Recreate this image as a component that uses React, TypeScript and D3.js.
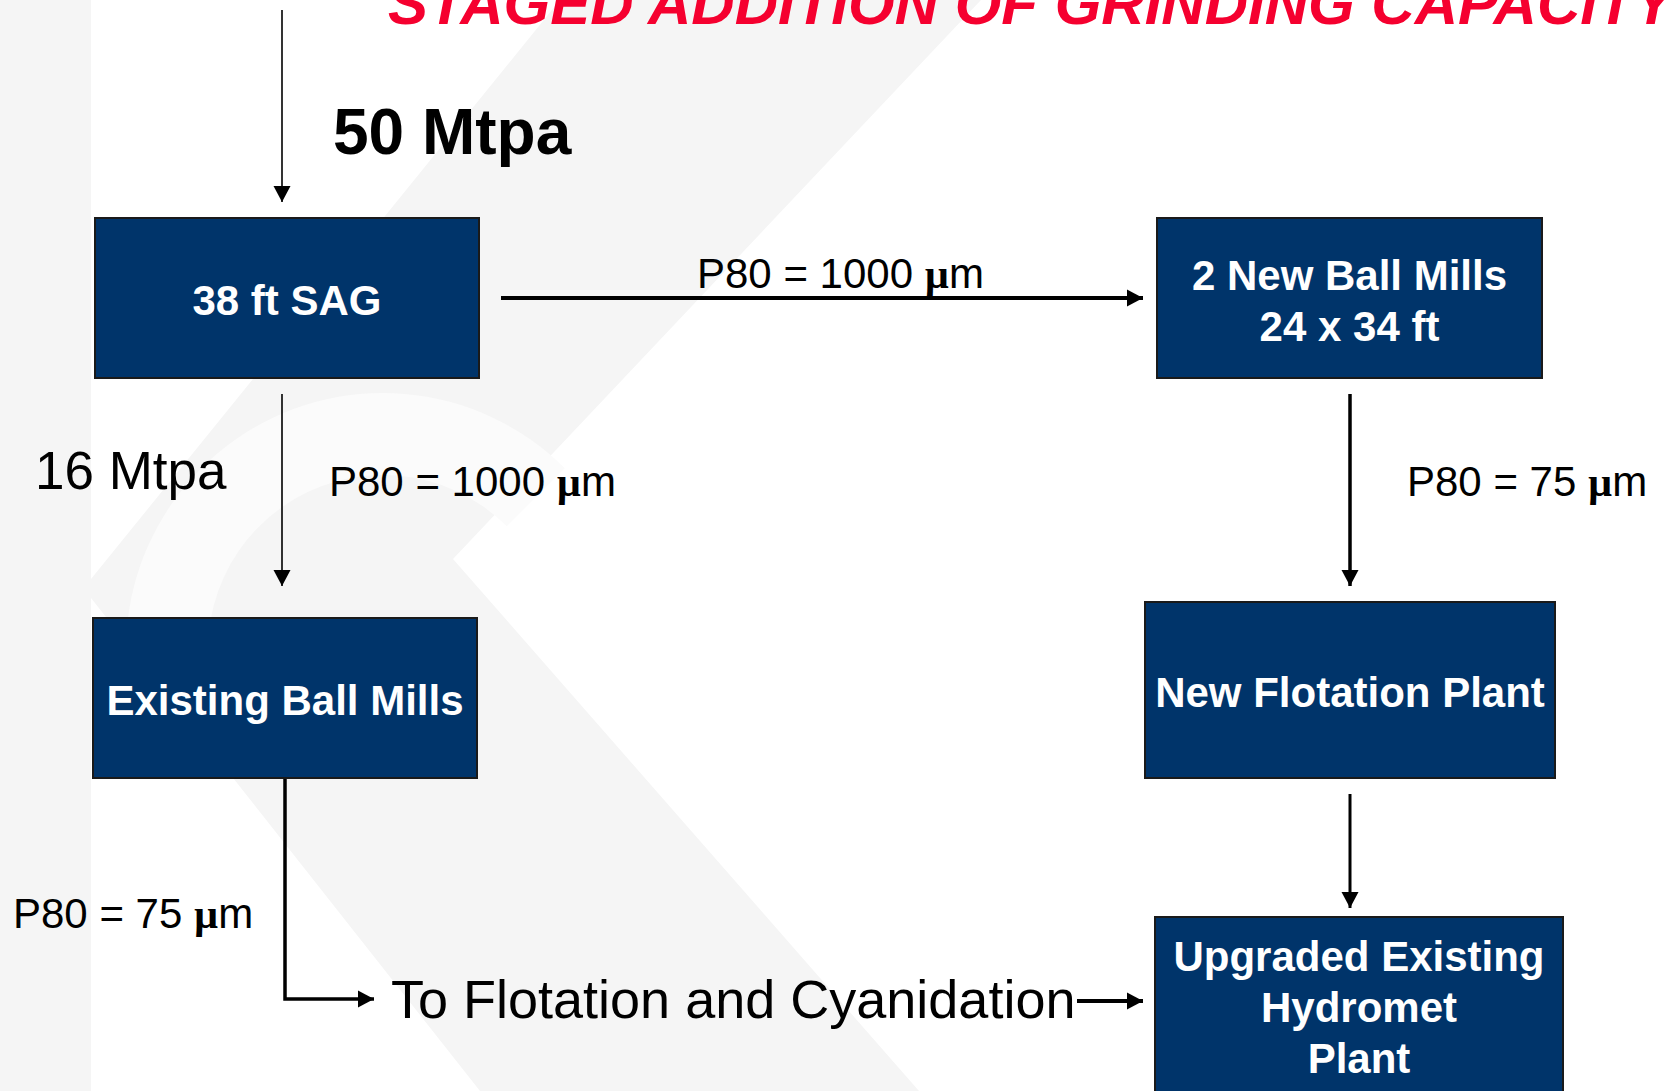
import React from 'react';
import * as d3 from 'd3';

const W = 1667;
const H = 1091;

// process units (boxes) and their text lines
const nodeIds = ['sag', 'newBall', 'existing', 'flotation', 'upgraded'];
const nodeLines = [
  ['38 ft SAG'],
  ['2 New Ball Mills', '24 x 34 ft'],
  ['Existing Ball Mills'],
  ['New Flotation Plant'],
  ['Upgraded Existing', 'Hydromet', 'Plant'],
];

// flows between units
const flowIds = ['feed', 'toNewBall', 'toExisting', 'toFlotation', 'toUpgraded', 'existingOut', 'cyanOut'];
const flowWeights = [1.6, 4, 1.6, 3.5, 3, 3.5, 4];

// throughput labels
const tonnageIds = ['feed', 'toExisting'];
const tonnageValues = [50, 16];

// grind size labels (P80, microns)
const p80Ids = ['toNewBall', 'toExisting', 'toFlotation', 'existingOut'];
const p80Values = [1000, 1000, 75, 75];

const title = 'STAGED ADDITION OF GRINDING CAPACITY';
const destination = 'To Flotation and Cyanidation';

// ---- layout ----
const boxes: Record<string, { x: number; y: number; w: number; h: number }> = {
  sag: { x: 95, y: 218, w: 384, h: 160 },
  newBall: { x: 1157, y: 218, w: 385, h: 160 },
  existing: { x: 93, y: 618, w: 384, h: 160 },
  flotation: { x: 1145, y: 602, w: 410, h: 176 },
  upgraded: { x: 1155, y: 917, w: 408, h: 176 },
};

const flowPaths: Record<string, [number, number][]> = {
  feed: [[282, 10], [282, 202]],
  toNewBall: [[501, 298], [1143, 298]],
  toExisting: [[282, 394], [282, 586]],
  toFlotation: [[1350, 394], [1350, 586]],
  toUpgraded: [[1350, 794], [1350, 908]],
  existingOut: [[285, 778], [285, 999], [374, 999]],
  cyanOut: [[1077, 1001], [1143, 1001]],
};

const tonnagePos: Record<string, { x: number; y: number; size: number; weight: string }> = {
  feed: { x: 333, y: 154, size: 64, weight: 'bold' },
  toExisting: { x: 35, y: 489, size: 53, weight: 'normal' },
};

const p80Pos: Record<string, { x: number; y: number }> = {
  toNewBall: { x: 697, y: 288 },
  toExisting: { x: 329, y: 496 },
  toFlotation: { x: 1407, y: 496 },
  existingOut: { x: 13, y: 928 },
};

const FONT = '"Liberation Sans", Arial, Helvetica, sans-serif';
const NAVY = '#00346a';
const WM = '#f5f5f5';

const line = d3.line<[number, number]>();

const App = () => {
  const ring = d3.arc()({
    innerRadius: 175,
    outerRadius: 257,
    startAngle: -Math.PI / 2 - 0.45,
    endAngle: Math.PI / 4,
  } as any) as string;

  return (
    <svg
      width={W}
      height={H}
      style={{ position: 'absolute', left: 0, top: 0, display: 'block', background: '#fff' }}
      fontFamily={FONT}
    >
      <defs>
        <marker
          id="head"
          markerUnits="userSpaceOnUse"
          markerWidth={18}
          markerHeight={18}
          refX={16}
          refY={0}
          orient="auto"
          overflow="visible"
        >
          <path d="M0,-8.5L16,0L0,8.5Z" fill="#000" />
        </marker>
      </defs>

      {/* faint logo watermark */}
      <g fill={WM}>
        <rect x={0} y={0} width={91} height={H} />
        <polygon points="560,0 981,0 453,559 919,1091 480,1091 91,598 91,579" />
        <path d={ring} transform="translate(383,650)" fill="#fbfbfb" />
      </g>

      {/* title */}
      <text x={388} y={24} fontSize={60} fontWeight="bold" fontStyle="italic" fill="#f5002f">
        {title}
      </text>

      {/* flows */}
      {flowIds.map((id, i) => (
        <path
          key={id}
          d={line(flowPaths[id]) as string}
          fill="none"
          stroke="#000"
          strokeWidth={flowWeights[i]}
          markerEnd="url(#head)"
        />
      ))}

      {/* units */}
      {nodeIds.map((id, i) => {
        const b = boxes[id];
        const lines = nodeLines[i];
        const lh = 51;
        const cy = b.y + b.h / 2;
        const first = cy - ((lines.length - 1) * lh) / 2 + 17;
        return (
          <g key={id}>
            <rect x={b.x} y={b.y} width={b.w} height={b.h} fill={NAVY} stroke="#1a1a1a" strokeWidth={2} />
            {lines.map((t, j) => (
              <text
                key={j}
                x={b.x + b.w / 2}
                y={first + j * lh}
                textAnchor="middle"
                fontSize={42}
                fontWeight="bold"
                fill="#fff"
              >
                {t}
              </text>
            ))}
          </g>
        );
      })}

      {/* tonnage labels */}
      {tonnageIds.map((id, i) => {
        const p = tonnagePos[id];
        return (
          <text key={id} x={p.x} y={p.y} fontSize={p.size} fontWeight={p.weight} fill="#000">
            {`${tonnageValues[i]} Mtpa`}
          </text>
        );
      })}

      {/* grind size labels */}
      {p80Ids.map((id, i) => {
        const p = p80Pos[id];
        return (
          <text key={id} x={p.x} y={p.y} fontSize={42} fill="#000">
            {`P80 = ${p80Values[i]} `}
            <tspan fontFamily='"Liberation Serif", "Times New Roman", serif' fontWeight="bold">µ</tspan>
            m
          </text>
        );
      })}

      {/* destination */}
      <text x={391} y={1018} fontSize={54} fill="#000">
        {destination}
      </text>
    </svg>
  );
};

export default App;
